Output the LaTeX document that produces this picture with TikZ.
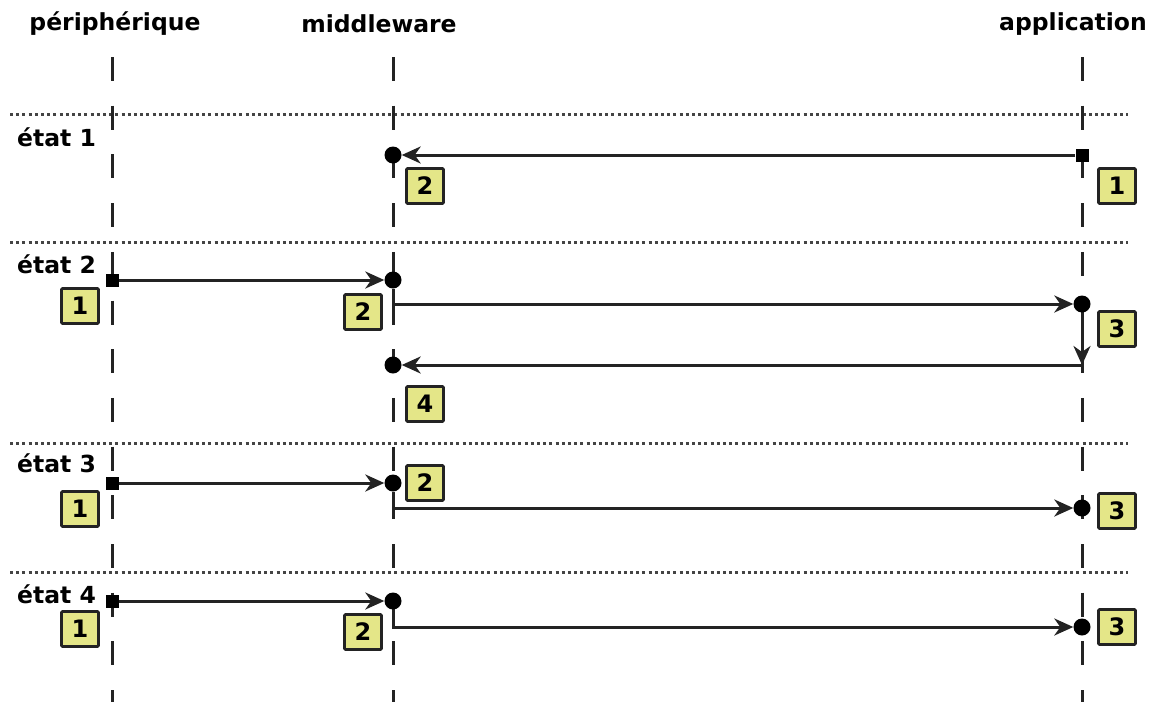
\documentclass[tikz,border=0pt]{standalone}
\usepackage{fontspec}
\setmainfont{DejaVu Sans}
\usetikzlibrary{arrows.meta}
\definecolor{boxfill}{RGB}{228,230,136}
\definecolor{ink}{RGB}{35,35,35}
\begin{document}
\begin{tikzpicture}[x=1pt,y=-1pt,
  lbl/.style={font=\fontsize{23.5}{27}\selectfont\bfseries, text=black, inner sep=0pt},
  num/.style={draw=ink, line width=2.8pt, fill=boxfill, minimum width=37pt, minimum height=35pt, inner sep=0pt, rounded corners=1pt, font=\fontsize{24}{26}\selectfont\bfseries},
  dot/.style={circle, fill=black, minimum size=17pt, inner sep=0pt},
  sq/.style={rectangle, fill=black, minimum size=13pt, inner sep=0pt},
  life/.style={draw=ink, line width=3pt, dash pattern=on 24pt off 24.7pt},
  sep/.style={draw=ink!85, line width=3pt, dash pattern=on 3pt off 3.2pt},
  arr/.style={draw=ink, line width=3pt, -{Stealth[length=19pt,width=17pt,inset=6pt]}}]
\useasboundingbox (0,0) rectangle (1152,702);

% headers
\node[lbl] (hp) at (115,24) {périphérique};
\node[lbl] (hm) at (379,24) {middleware};
\node[lbl] (ha) at (1073,24) {application};

% separators
\foreach \y in {114,242,443,572}
  \draw[sep] (10,\y) -- (1128,\y);

% lifelines
\coordinate (pt) at (112,57);  \coordinate (pb) at (112,702);
\coordinate (mt) at (393,57);  \coordinate (mb) at (393,702);
\coordinate (at) at (1082,57); \coordinate (ab) at (1082,702);
\draw[life] (pt) -- (pb);
\draw[life] (mt) -- (mb);
\draw[life] (at) -- (ab);

% state labels
\node[lbl, anchor=west] (e1) at (17,137) {état 1};
\node[lbl, anchor=west] (e2) at (17,264) {état 2};
\node[lbl, anchor=west] (e3) at (17,463) {état 3};
\node[lbl, anchor=west] (e4) at (17,594) {état 4};

% state 1
\node[dot] (m1) at (393,155) {};
\node[sq]  (a1) at (1082,155) {};
\node[num] (b12) at (425,186) {2};
\node[num] (b11) at (1117,186) {1};
\draw[arr] (a1) -- (m1);

% state 2
\node[sq]  (p2) at (112,280) {};
\node[dot] (m2) at (393,280) {};
\node[dot] (a2) at (1082,304) {};
\coordinate (c2) at (1082,365);
\node[dot] (m3) at (393,365) {};
\node[num] (b21) at (80,306) {1};
\node[num] (b22) at (363,312) {2};
\node[num] (b23) at (1117,329) {3};
\node[num] (b24) at (425,404) {4};
\draw[arr] (p2) -- (m2);
\draw[arr] (m2) |- (a2);
\draw[arr] (a2) -- (c2);
\draw[arr] (c2) -- (m3);

% state 3
\node[sq]  (p3) at (112,483) {};
\node[dot] (m4) at (393,483) {};
\node[dot] (a4) at (1082,508) {};
\node[num] (b31) at (80,509) {1};
\node[num] (b32) at (425,483) {2};
\node[num] (b33) at (1117,511) {3};
\draw[arr] (p3) -- (m4);
\draw[arr] (m4) |- (a4);

% state 4
\node[sq]  (p4) at (112,601) {};
\node[dot] (m5) at (393,601) {};
\node[dot] (a5) at (1082,627) {};
\node[num] (b41) at (80,629) {1};
\node[num] (b42) at (363,632) {2};
\node[num] (b43) at (1117,627) {3};
\draw[arr] (p4) -- (m5);
\draw[arr] (m5) |- (a5);
\end{tikzpicture}
\end{document}
